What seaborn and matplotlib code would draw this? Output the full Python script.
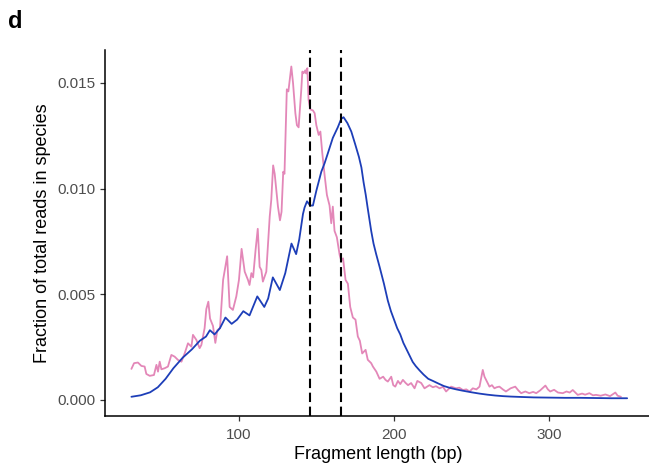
import numpy as np
import pandas as pd
import matplotlib
matplotlib.use("Agg")
import matplotlib.pyplot as plt
import seaborn as sns

# ---- data ----
blue_x = [31, 37, 43, 48, 53, 58, 64, 70, 75, 79, 81.5, 84.5, 88, 91.5, 95.5, 99, 103, 107,
          112, 116.5, 119, 122, 126.5, 130, 134, 137, 139, 141.4, 142.4, 144, 146, 147.8, 150,
          153.2, 155.3, 157.4, 160.6, 163.8, 166, 167.5, 170, 172.5, 175, 177.4, 179, 180.4,
          181.8, 183, 185.3, 186.8, 188.5, 190.7, 193.5, 196, 198, 200, 202, 204, 206, 208,
          210, 212, 214, 216.4, 219, 222, 225, 229, 232, 236, 240, 244, 250, 255, 260, 265,
          270, 275, 282, 290, 300, 310, 320, 330, 340, 350]
blue_y = [0.00015, 0.00022, 0.00036, 0.0006, 0.0010, 0.0015, 0.0020, 0.0024, 0.0028, 0.0030,
          0.0033, 0.0031, 0.0034, 0.0039, 0.0036, 0.0038, 0.0042, 0.0040, 0.0049, 0.0044,
          0.0048, 0.0058, 0.0052, 0.0060, 0.0074, 0.0069, 0.0076, 0.0088, 0.0091, 0.0094,
          0.0092, 0.0092, 0.0099, 0.0108, 0.0112, 0.01167, 0.0124, 0.0129, 0.0133, 0.01338,
          0.0131, 0.0127, 0.0121, 0.0115, 0.0110, 0.0103, 0.0097, 0.0091, 0.0080, 0.0074,
          0.0069, 0.0063, 0.0055, 0.0047, 0.0042, 0.0038, 0.0034, 0.0031, 0.0027, 0.0024,
          0.0021, 0.0018, 0.0016, 0.0014, 0.0012, 0.0010, 0.00090, 0.00076, 0.00066, 0.00057,
          0.00050, 0.00044, 0.00036, 0.00030, 0.00025, 0.00021, 0.00018, 0.00016, 0.00014,
          0.00012, 0.00011, 0.00010, 0.00010, 0.00009, 0.00008, 0.00008]

pink_x = [31.0, 32.7, 35.2, 37.4, 39.5, 40.6, 42.8, 45.5, 47.1, 48.1, 49.2, 50.3, 52.4, 54.5,
          56.7, 58.8, 61.0, 63.2, 65.3, 67.4, 69.6, 70.6, 72.8, 74.9, 76.0, 78.1, 79.2, 80.5,
          81.6, 83.5, 85.0, 86.3, 88.0, 90.0, 92.6, 94.2, 96.3, 98.5, 100.2, 101.9, 103.9,
          106.0, 107.0, 108.2, 109.3, 110.9, 112.3, 113.5, 114.6, 115.6, 117.8, 120.0, 121.0,
          122.2, 123.2, 125.3, 126.6, 127.6, 128.7, 129.5, 131.0, 132.0, 133.9, 135.0, 136.5,
          137.5, 138.6, 140.3, 141.0, 141.8, 142.9, 143.5, 144.2, 145.0, 146.1, 147.8, 148.9,
          150.0, 151.5, 152.6, 153.8, 155.3, 156.8, 158.5, 159.6, 160.6, 161.7, 163.2, 165.0,
          166.0, 167.2, 168.8, 170.3, 171.8, 173.5, 175.2, 176.7, 178.0, 179.5, 181.7, 183.1,
          185.3, 186.4, 188.6, 190.7, 193.0, 194.5, 196.0, 198.2, 199.5, 200.8, 202.5, 204.0,
          205.7, 207.5, 209.0, 211.0, 213.2, 215.0, 217.5, 219.6, 222.8, 225.0, 227.0, 229.3,
          231.5, 233.5, 236.7, 239.9, 242.0, 244.3, 246.5, 248.6, 250.7, 253.0, 255.0, 257.1,
          258.2, 259.2, 261.4, 263.0, 264.6, 266.0, 267.8, 270.0, 272.0, 275.0, 278.0, 280.0,
          281.8, 284.5, 287.0, 289.5, 291.5, 294.0, 297.4, 299.0, 300.5, 303.0, 305.5, 308.6,
          311.0, 313.0, 315.0, 318.2, 321.0, 323.0, 325.7, 328.0, 330.0, 333.0, 336.0, 339.0,
          342.4, 343.9, 346.0]
pink_y = [0.00147, 0.00174, 0.00177, 0.00161, 0.00158, 0.00123, 0.00114, 0.00118, 0.00166,
          0.00134, 0.00181, 0.00145, 0.00150, 0.00158, 0.00213, 0.00205, 0.00189, 0.00181,
          0.00221, 0.00268, 0.00252, 0.00308, 0.00284, 0.00245, 0.00260, 0.00340, 0.00430,
          0.00465, 0.00385, 0.00350, 0.00270, 0.00330, 0.00340, 0.00568, 0.00680, 0.00440,
          0.00426, 0.00490, 0.00568, 0.00715, 0.00607, 0.00568, 0.00544, 0.00600, 0.00580,
          0.00710, 0.00810, 0.00630, 0.00615, 0.00560, 0.00607, 0.00868, 0.00947, 0.01110,
          0.01070, 0.00915, 0.00850, 0.00890, 0.01080, 0.01070, 0.01470, 0.01460, 0.01578,
          0.01500, 0.01357, 0.01300, 0.01290, 0.01467, 0.01554, 0.01546, 0.01560, 0.01545,
          0.01570, 0.01420, 0.01375, 0.01370, 0.01357, 0.01300, 0.01254, 0.01270, 0.01170,
          0.01065, 0.00970, 0.00920, 0.00836, 0.00915, 0.00800, 0.00770, 0.00686, 0.00660,
          0.00670, 0.00568, 0.00550, 0.00440, 0.00390, 0.00380, 0.00300, 0.00280, 0.00220,
          0.00237, 0.00190, 0.00174, 0.00158, 0.00134, 0.00100, 0.00110, 0.00095, 0.00087,
          0.00110, 0.00070, 0.00063, 0.00090, 0.00075, 0.00095, 0.00080, 0.00070, 0.00080,
          0.00055, 0.00090, 0.00080, 0.00055, 0.00070, 0.00060, 0.00065, 0.00055, 0.00062,
          0.00040, 0.00063, 0.00055, 0.00058, 0.00047, 0.00050, 0.00040, 0.00055, 0.00050,
          0.00063, 0.00142, 0.00110, 0.00095, 0.00063, 0.00070, 0.00055, 0.00060, 0.00063,
          0.00050, 0.00040, 0.00055, 0.00063, 0.00045, 0.00032, 0.00040, 0.00032, 0.00038,
          0.00032, 0.00045, 0.00068, 0.00050, 0.00040, 0.00048, 0.00035, 0.00032, 0.00040,
          0.00035, 0.00047, 0.00024, 0.00030, 0.00025, 0.00032, 0.00022, 0.00024, 0.00020,
          0.00026, 0.00018, 0.00035, 0.00020, 0.00015]

series_names = ["pink", "blue"]
dashed_x = [146, 166]
x_ticks = [100, 200, 300]
y_ticks = [0.000, 0.005, 0.010, 0.015]
y_tick_labels = ["0.000", "0.005", "0.010", "0.015"]

df = pd.concat([
    pd.DataFrame({"length": pink_x, "frac": pink_y, "series": series_names[0]}),
    pd.DataFrame({"length": blue_x, "frac": blue_y, "series": series_names[1]}),
], ignore_index=True)

# ---- plot ----
sns.set_style("white")
plt.rcParams["font.family"] = ["Liberation Sans", "DejaVu Sans"]

W, H = 649, 469
fig = plt.figure(figsize=(W / 100, H / 100), dpi=100)
ax = fig.add_axes([105 / W, 53 / H, 547 / W, 366 / H])

sns.lineplot(data=df, x="length", y="frac", hue="series",
             palette={"pink": "#E387B8", "blue": "#1D3EB8"},
             estimator=None, sort=False, linewidth=1.3, legend=False, ax=ax)

for xv in dashed_x:
    ax.axvline(xv, color="black", linestyle=(0, (4.5, 2.2)), linewidth=1.5, zorder=5)

ax.set_xlim(14, 366)
ax.set_ylim(-0.00076, 0.01656)
ax.set_xticks(x_ticks)
ax.set_yticks(y_ticks)
ax.set_yticklabels(y_tick_labels)

for side in ["top", "right"]:
    ax.spines[side].set_visible(False)
for side in ["left", "bottom"]:
    ax.spines[side].set_color("black")
    ax.spines[side].set_linewidth(1.1)

ax.tick_params(axis="both", which="major", length=3.5, width=0.9, color="#333333",
               labelcolor="#4D4D4D", labelsize=11, left=True, bottom=True)
ax.tick_params(axis="x", pad=5)
ax.tick_params(axis="y", pad=3)

ax.set_xlabel("Fragment length (bp)", fontsize=13, color="black", labelpad=3)
ax.set_ylabel("Fraction of total reads in species", fontsize=13, color="black", labelpad=5)

fig.text(8 / W, 1 - 28 / H, "d", fontsize=17, fontweight="bold", color="black")

fig.savefig("out.png", dpi=100)
